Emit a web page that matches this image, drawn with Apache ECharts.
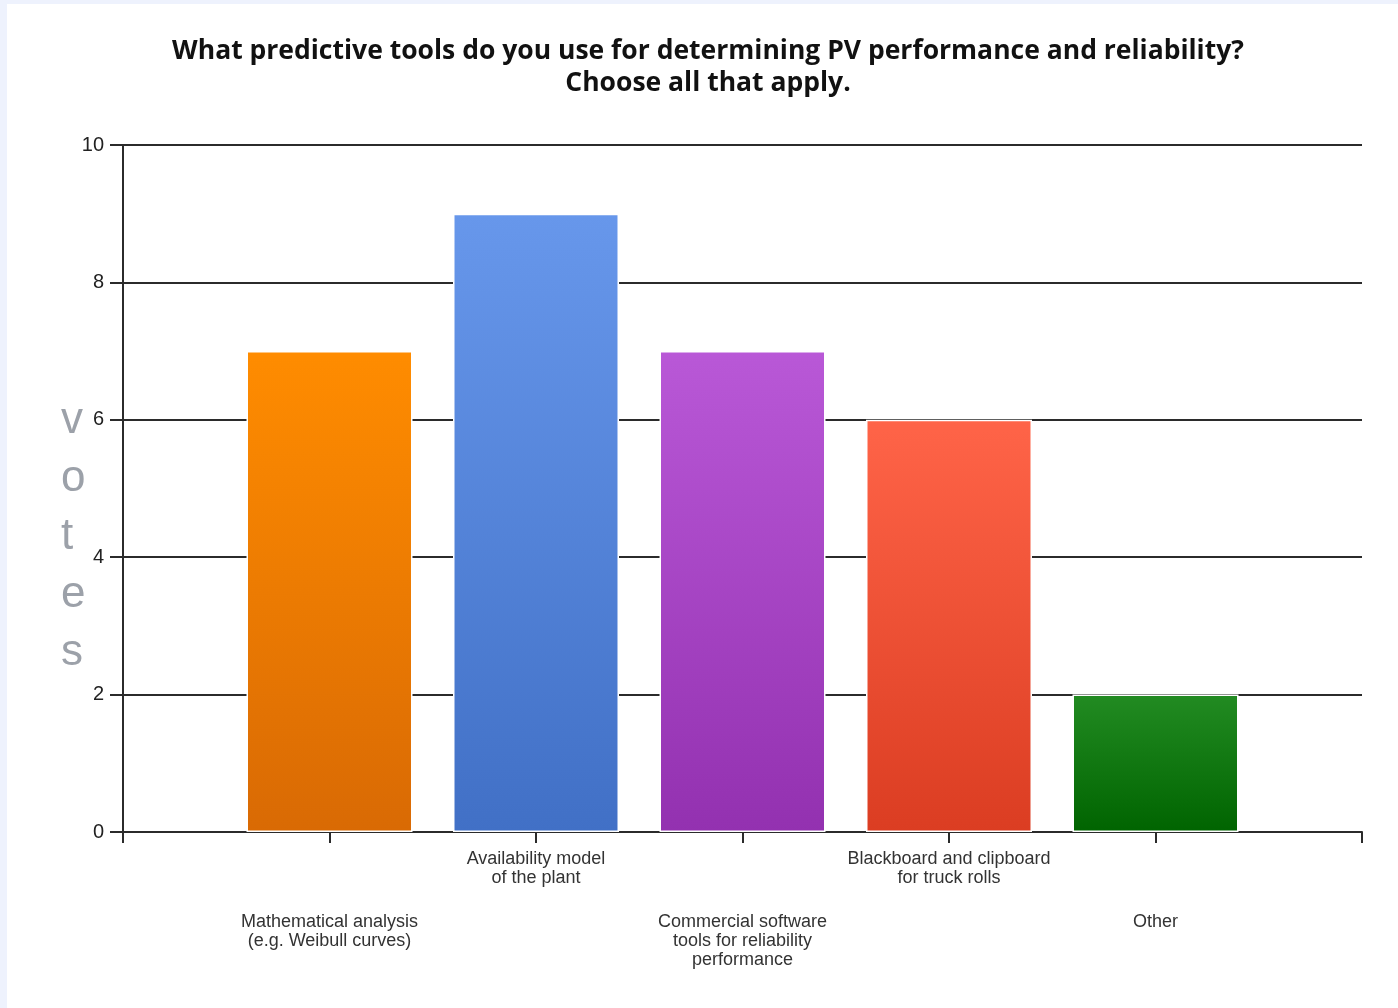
<!DOCTYPE html>
<html>
<head>
<meta charset="utf-8">
<script src="https://cdn.jsdelivr.net/npm/echarts@6/dist/echarts.min.js"></script>
<style>
html, body { margin: 0; padding: 0; background: #EEF2FD; }
#wrap { position: relative; width: 1398px; height: 1008px; background: #EEF2FD; }
#main { position: absolute; left: 7px; top: 4px; width: 1391px; height: 1004px; background: #fff; }
</style>
</head>
<body>
<div id="wrap"><div id="main"></div></div>
<script>
var categories = [
	'Mathematical analysis\n(e.g. Weibull curves)',
	'Availability model\nof the plant',
	'Commercial software\ntools for reliability\nperformance',
	'Blackboard and clipboard\nfor truck rolls',
	'Other'
];
var votes = [7, 9, 7, 6, 2];
var topColors = ['#FF8C00', '#6797EB', '#B958D7', '#FF6448', '#228B22'];
var bottomColors = ['#D96A04', '#4170C6', '#9331B0', '#DB3D22', '#006400'];

// empty slot at each end so bars sit on the ticks like the original
var axisCats = [''].concat(categories, ['']);
var barData = [null];
for (var i = 0; i < votes.length; i++) {
	barData.push({
		value: votes[i],
		itemStyle: {
			color: new echarts.graphic.LinearGradient(0, 0, 0, 1, [
				{offset: 0, color: topColors[i]},
				{offset: 1, color: bottomColors[i]}
			])
		}
	});
}
barData.push(null);

var myChart = echarts.init(document.getElementById('main'));
var option = {
	animation: false,
	title: {
		text: 'What predictive tools do you use for determining PV performance and reliability?\nChoose all that apply.',
		left: 701,
		textAlign: 'center',
		top: 31,
		padding: 0,
		textStyle: {
			fontFamily: 'Open Sans',
			fontSize: 26.5,
			fontWeight: 'bold',
			color: '#111',
			lineHeight: 32
		}
	},
	graphic: [{
		type: 'text',
		left: 54,
		top: 388,
		style: {
			text: 'v\no\nt\ne\ns',
			fontFamily: 'Liberation Sans',
			fontSize: 44,
			lineHeight: 58,
			fill: '#9CA1A9'
		}
	}],
	grid: {left: 116, right: 36, top: 141, bottom: 176},
	xAxis: {
		type: 'category',
		data: axisCats,
		boundaryGap: false,
		axisLine: {lineStyle: {color: '#2b2b2b', width: 2}},
		axisTick: {show: true, length: 11, interval: 0, lineStyle: {color: '#2b2b2b', width: 2}},
		axisLabel: {
			interval: 0,
			margin: 18,
			formatter: function(value, index){
				if (!value) return '';
				var lines = value.split('\n').map(function(s){ return '{t|' + s + '}'; }).join('\n');
				return index % 2 === 1 ? '{gap| }\n' + lines : lines;
			},
			rich: {
				t: {fontFamily: 'Liberation Sans', fontSize: 18, color: '#333', lineHeight: 19},
				gap: {fontSize: 10, lineHeight: 63}
			}
		}
	},
	yAxis: {
		type: 'value',
		min: 0,
		max: 10,
		interval: 2,
		axisLine: {show: true, lineStyle: {color: '#2b2b2b', width: 2}},
		axisTick: {show: true, length: 13, lineStyle: {color: '#2b2b2b', width: 2}},
		axisLabel: {margin: 19, fontFamily: 'Liberation Sans', fontSize: 20, color: '#222'},
		splitLine: {lineStyle: {color: '#2b2b2b', width: 2}}
	},
	series: [{
		type: 'bar',
		data: barData,
		barWidth: 166,
		itemStyle: {borderColor: '#fff', borderWidth: 1.5}
	}]
};
myChart.setOption(option);
window.onresize = function(){
	myChart.resize();
};
</script>
</body>
</html>
